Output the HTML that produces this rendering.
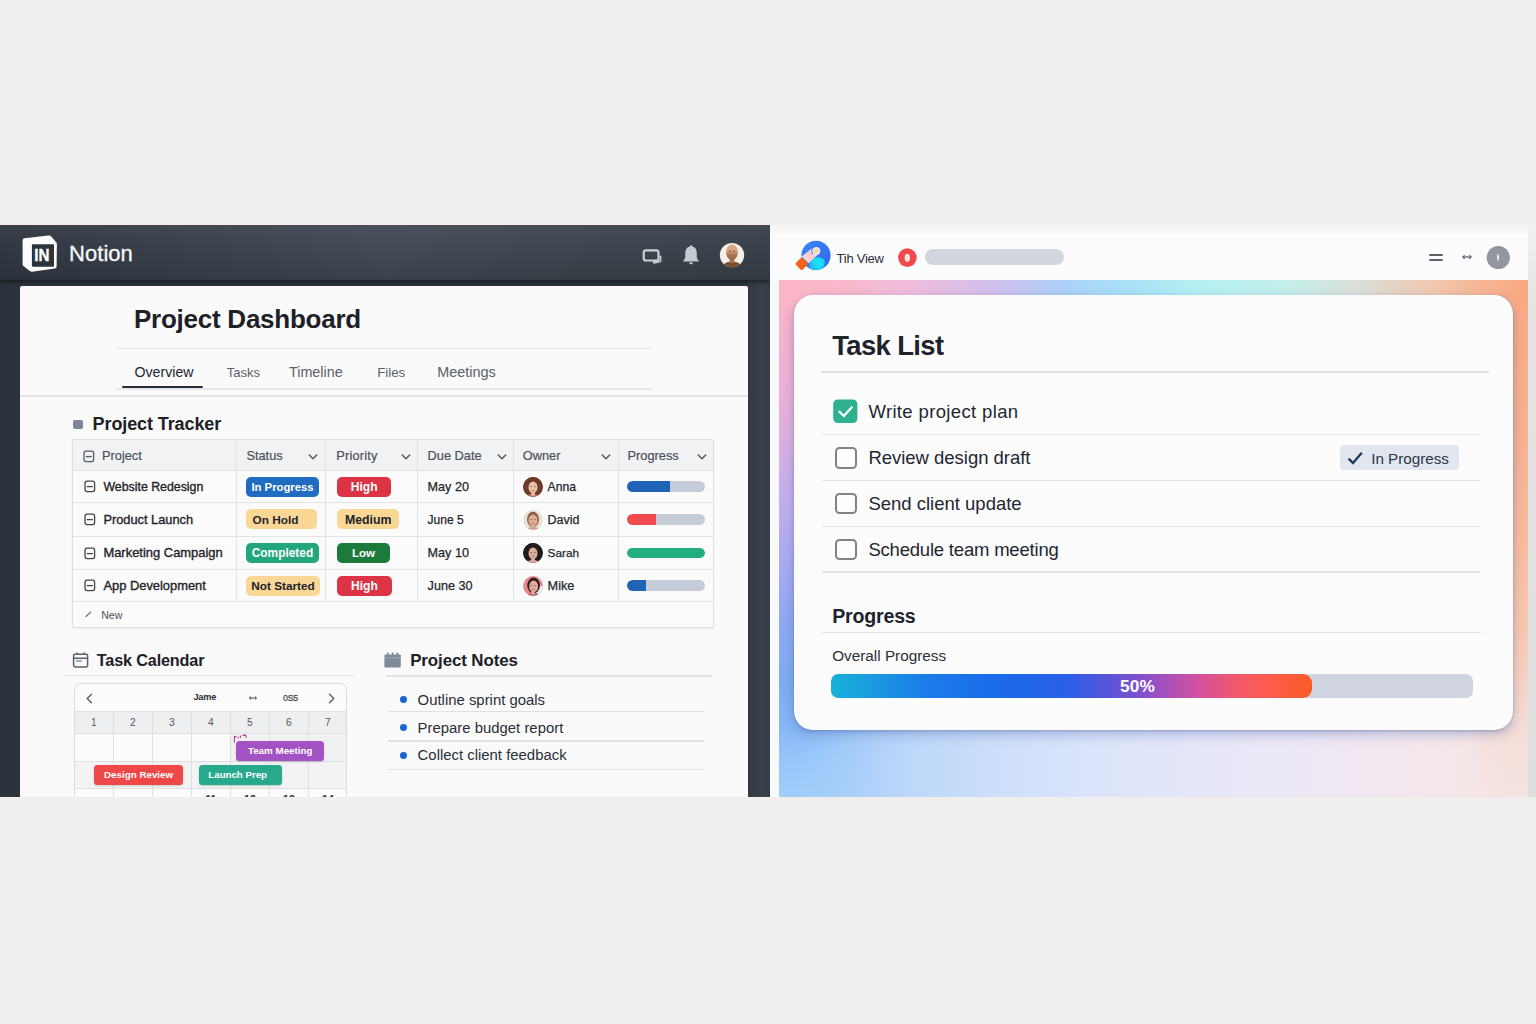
<!DOCTYPE html>
<html><head><meta charset="utf-8"><title>Project Dashboard</title>
<style>
*{box-sizing:border-box;margin:0;padding:0}
html,body{width:1536px;height:1024px;overflow:hidden}
body{background:linear-gradient(180deg,#efeeec 0%,#f0efed 100%);font-family:"Liberation Sans",sans-serif;position:relative;color:#1f2329}
.abs{position:absolute}
.t{position:absolute;white-space:nowrap;line-height:1}
/* left panel */
#L{position:absolute;left:0;top:225px;width:770px;height:572px;background:#2c333c;overflow:hidden}
#Lh{z-index:2;position:absolute;left:0;top:0;width:770px;height:55px;background:linear-gradient(180deg,rgba(255,255,255,.035) 0,rgba(255,255,255,0) 40%,rgba(0,0,0,.13) 100%),linear-gradient(90deg,#313842 0%,#3a414b 22%,#444b56 50%,#3f464f 75%,#3a414a 100%);box-shadow:0 2px 4px rgba(0,0,0,.45)}
#Lc{position:absolute;left:20px;top:61px;width:728px;height:520px;background:#fafafa;border-radius:2px 2px 0 0}
/* right panel */
#R{position:absolute;left:770px;top:225px;width:766px;height:572px;background:linear-gradient(180deg,#f4f4f4 0,#f6f6f6 7px,#fcfcfd 9px,#fbfcfe 55px,#f8f9fb 56px);overflow:hidden}
#Rg{position:absolute;left:9px;top:55px;width:749px;height:517px;overflow:hidden}
#Rs{position:absolute;left:758px;top:0;width:8px;height:572px;background:linear-gradient(180deg,#f1f1f1 0,#e4e4e4 15%,#dedede 100%)}
#Rc{position:absolute;left:24px;top:70px;width:719px;height:435px;background:#fcfcfd;border-radius:19px;box-shadow:0 5px 12px rgba(60,85,160,.30),0 1px 3px rgba(60,80,150,.30)}

#Rg .base{position:absolute;inset:0;background:linear-gradient(90deg,#a2cdfa 0%,#aed2fa 10%,#c0d9fa 20%,#cedffa 30%,#dbe4fa 42%,#e6e7fa 56%,#eee8f6 70%,#f4e8ef 84%,#f6e6e6 94%,#f6e2de 100%)}
#Rg .lft{position:absolute;left:0;top:0;width:120px;height:100%;background:linear-gradient(180deg,#fcb6c6 0%,#f6b2cc 12%,#e6b0da 26%,#ccb0e8 38%,#b0acf0 52%,#90a8f2 66%,#7eacf4 78%,#86b6f6 86%,#98c6fa 93%,#a2cdfa 100%);-webkit-mask-image:linear-gradient(90deg,#000 0,#000 14%,rgba(0,0,0,.62) 38%,rgba(0,0,0,.28) 62%,rgba(0,0,0,.08) 84%,transparent 100%);mask-image:linear-gradient(90deg,#000 0,#000 14%,rgba(0,0,0,.62) 38%,rgba(0,0,0,.28) 62%,rgba(0,0,0,.08) 84%,transparent 100%)}
#Rg .rgt{position:absolute;right:0;top:0;width:60px;height:100%;background:linear-gradient(180deg,#f8aa84 0%,#f8b290 30%,#f8bc9e 50%,#f8cab4 70%,#f6dcd6 86%,#f5e4e2 100%);-webkit-mask-image:linear-gradient(270deg,#000 0,#000 40%,transparent 100%);mask-image:linear-gradient(270deg,#000 0,#000 40%,transparent 100%)}
#Rg .top{position:absolute;left:0;top:0;width:100%;height:40px;background:linear-gradient(90deg,#fcb6c6 0%,#f8b8cc 9%,#ecbcdc 19%,#d0c0ee 29%,#acd0f8 38%,#a8e0f6 46%,#b4f0f2 56%,#c4eeea 68%,#dcded6 78%,#f0c8b0 87%,#f8b08c 96%,#f8a882 100%);-webkit-mask-image:linear-gradient(180deg,#000 0,#000 50%,transparent 100%);mask-image:linear-gradient(180deg,#000 0,#000 50%,transparent 100%)}
#L svg,#L .t{z-index:3}

</style></head>
<body>
<div id="L">
<div id="Lh"></div>
<div id="Lc"></div>
<svg class="abs" style="left:20px;top:7px" width="40" height="42" viewBox="20 232 40 42"><path d="M24.6 238.2 L48.6 235.6 Q50.4 235.4 51.5 236.8 L56.3 242.4 Q56.9 243.2 56.9 244.2 L56.6 266.4 Q56.6 268.2 54.8 268.5 L32.4 271.7 Q31 271.9 29.8 271 L23.4 266 Q22.6 265.4 22.6 264.4 L22.6 240.2 Q22.6 238.4 24.6 238.2 Z" fill="#fcfcfc"/><rect x="31.9" y="244.2" width="22.1" height="22.5" rx=".8" fill="#2d333b"/><text x="34.3" y="260.9" font-family="Liberation Sans" font-weight="700" font-size="16.3" fill="#fff" stroke="#fff" stroke-width=".35" transform="translate(34.3 0) scale(0.93 1) translate(-34.3 0)">IN</text></svg>
<div class="t" style="left:69.0px;top:18.0px;font-size:22px;color:#f6f7f8;font-weight:400;letter-spacing:.05px;-webkit-text-stroke:.3px #f6f7f8">Notion</div>
<svg class="abs" style="left:640px;top:21px" width="24" height="20" viewBox="640 246 24 20"><rect x="643.7" y="250.3" width="14.8" height="10.2" rx="2.3" fill="none" stroke="#cdd2d9" stroke-width="2.2"/><path d="M653 261 L653 263.4 Q653 264 653.8 263.8 L659.6 262.6 Q661.4 262.2 661.4 260.4 L661.4 255.8 L659.6 255.8 L659.6 261 Z" fill="#c3c8d0"/></svg>
<svg class="abs" style="left:680px;top:18px" width="22" height="24" viewBox="680 243 22 24"><path d="M691 245.2 Q692.3 245.2 692.3 246.6 Q696.8 247.8 696.8 253.2 L696.8 257.2 Q696.8 259 698.6 260.4 L698.6 261.4 L683.4 261.4 L683.4 260.4 Q685.2 259 685.2 257.2 L685.2 253.2 Q685.2 247.8 689.7 246.6 Q689.7 245.2 691 245.2 Z" fill="#c5cad2"/><rect x="689.3" y="262.3" width="3.4" height="2" rx="1" fill="#c5cad2"/></svg>
<svg class="abs" style="left:718px;top:16px" width="28" height="30" viewBox="718 241 28 30"><defs><clipPath id="av0"><circle cx="732" cy="255.1" r="12.2"/></clipPath><linearGradient id="avg" x1="0" y1="0" x2="0" y2="1"><stop offset="0" stop-color="#dcb090"/><stop offset=".45" stop-color="#d09c7c"/><stop offset=".7" stop-color="#a87252"/><stop offset="1" stop-color="#9a6444"/></linearGradient></defs><circle cx="732" cy="255.1" r="12.2" fill="#f6efe9"/><g clip-path="url(#av0)"><ellipse cx="732" cy="269.6" rx="11.5" ry="8" fill="#7c4e30"/><rect x="729.6" y="258" width="4.8" height="5" fill="#a87252"/><ellipse cx="732" cy="252.2" rx="5.9" ry="7.7" fill="url(#avg)"/><path d="M729 251.4 h2 M733 251.4 h2" stroke="#5a3826" stroke-width="1" opacity=".8"/></g></svg>
<div class="abs" style="left:748.0px;top:55.0px;width:22.0px;height:520.0px;background:linear-gradient(90deg,#323942 0,#373e47 45%,#3a414a 60%,#353c45 100%)"></div>
<div class="t" style="left:134.0px;top:81.2px;font-size:26px;color:#1d2026;font-weight:700;letter-spacing:-.25px">Project Dashboard</div>
<div class="abs" style="left:116.0px;top:123.0px;width:536.0px;height:1.3px;background:#e4e5e7"></div>
<div class="t" style="left:134.4px;top:140.2px;font-size:14.2px;color:#23272e;font-weight:400;">Overview</div>
<div class="t" style="left:226.8px;top:141.2px;font-size:13.0px;color:#5a6069;font-weight:400;">Tasks</div>
<div class="t" style="left:289.0px;top:140.1px;font-size:14.35px;color:#5a6069;font-weight:400;">Timeline</div>
<div class="t" style="left:377.2px;top:140.9px;font-size:13.3px;color:#5a6069;font-weight:400;">Files</div>
<div class="t" style="left:437.2px;top:140.0px;font-size:14.45px;color:#5a6069;font-weight:400;">Meetings</div>
<div class="abs" style="left:116.0px;top:163.4px;width:536.0px;height:1.2px;background:#e6e7e9"></div>
<div class="abs" style="left:121.5px;top:161.2px;width:81.0px;height:2.3px;background:#2a2e37;border-radius:1px"></div>
<div class="abs" style="left:20.0px;top:170.4px;width:728.0px;height:1.3px;background:#e3e4e6"></div>
<div class="abs" style="left:72.8px;top:195.0px;width:10.4px;height:9.4px;background:#7b8798;border-radius:2px"></div>
<div class="t" style="left:92.6px;top:190.4px;font-size:18px;color:#1d2026;font-weight:700;letter-spacing:-.1px">Project Tracker</div>
<div class="abs" style="left:72.0px;top:214.3px;width:642.0px;height:188.9px;background:#fbfbfb;border:1.2px solid #dcdee1;border-radius:2px;box-shadow:0 1px 2px rgba(0,0,0,.05)"></div>
<div class="abs" style="left:73.0px;top:215.3px;width:640.0px;height:30.1px;background:#f1f2f3"></div>
<div class="abs" style="left:73.0px;top:244.8px;width:640.0px;height:1.2px;background:#e2e3e6"></div>
<div class="abs" style="left:73.0px;top:277.0px;width:640.0px;height:1.2px;background:#e2e3e6"></div>
<div class="abs" style="left:73.0px;top:310.6px;width:640.0px;height:1.2px;background:#e2e3e6"></div>
<div class="abs" style="left:73.0px;top:344.2px;width:640.0px;height:1.2px;background:#e2e3e6"></div>
<div class="abs" style="left:73.0px;top:376.0px;width:640.0px;height:1.2px;background:#e2e3e6"></div>
<div class="abs" style="left:235.7px;top:215.3px;width:1.2px;height:161.3px;background:#e2e3e6"></div>
<div class="abs" style="left:325.2px;top:215.3px;width:1.2px;height:161.3px;background:#e2e3e6"></div>
<div class="abs" style="left:417.0px;top:215.3px;width:1.2px;height:161.3px;background:#e2e3e6"></div>
<div class="abs" style="left:513.2px;top:215.3px;width:1.2px;height:161.3px;background:#e2e3e6"></div>
<div class="abs" style="left:618.0px;top:215.3px;width:1.2px;height:161.3px;background:#e2e3e6"></div>
<svg class="abs" style="left:82.6px;top:224.8px" width="12" height="13" viewBox="0 0 12 13"><rect x="1" y="1.2" width="9.6" height="10.4" rx="2" fill="none" stroke="#555b63" stroke-width="1.3"/><path d="M2.8 6.6 H8.8" stroke="#555b63" stroke-width="1.3"/></svg>
<div class="t" style="left:102.0px;top:224.8px;font-size:12.8px;color:#4b515a;font-weight:400;-webkit-text-stroke:.2px #4b515a">Project</div>
<div class="t" style="left:246.4px;top:224.8px;font-size:12.8px;color:#4b515a;font-weight:400;-webkit-text-stroke:.2px #4b515a">Status</div>
<div class="t" style="left:336.2px;top:224.8px;font-size:12.8px;color:#4b515a;font-weight:400;-webkit-text-stroke:.2px #4b515a;letter-spacing:.2px">Priority</div>
<div class="t" style="left:427.6px;top:224.8px;font-size:12.8px;color:#4b515a;font-weight:400;-webkit-text-stroke:.2px #4b515a">Due Date</div>
<div class="t" style="left:522.8px;top:224.8px;font-size:12.8px;color:#4b515a;font-weight:400;-webkit-text-stroke:.2px #4b515a">Owner</div>
<div class="t" style="left:627.5px;top:224.8px;font-size:12.8px;color:#4b515a;font-weight:400;-webkit-text-stroke:.2px #4b515a">Progress</div>
<svg class="abs" style="left:308.3px;top:228.2px" width="10" height="8" viewBox="0 0 10 8"><path d="M1.3 2 L5 5.8 L8.7 2" fill="none" stroke="#4a4f57" stroke-width="1.25" stroke-linecap="round" stroke-linejoin="round"/></svg>
<svg class="abs" style="left:400.6px;top:228.2px" width="10" height="8" viewBox="0 0 10 8"><path d="M1.3 2 L5 5.8 L8.7 2" fill="none" stroke="#4a4f57" stroke-width="1.25" stroke-linecap="round" stroke-linejoin="round"/></svg>
<svg class="abs" style="left:497px;top:228.2px" width="10" height="8" viewBox="0 0 10 8"><path d="M1.3 2 L5 5.8 L8.7 2" fill="none" stroke="#4a4f57" stroke-width="1.25" stroke-linecap="round" stroke-linejoin="round"/></svg>
<svg class="abs" style="left:600.8px;top:228.2px" width="10" height="8" viewBox="0 0 10 8"><path d="M1.3 2 L5 5.8 L8.7 2" fill="none" stroke="#4a4f57" stroke-width="1.25" stroke-linecap="round" stroke-linejoin="round"/></svg>
<svg class="abs" style="left:696.6px;top:228.2px" width="10" height="8" viewBox="0 0 10 8"><path d="M1.3 2 L5 5.8 L8.7 2" fill="none" stroke="#4a4f57" stroke-width="1.25" stroke-linecap="round" stroke-linejoin="round"/></svg>
<svg class="abs" style="left:83.6px;top:255.10000000000002px" width="12" height="13" viewBox="0 0 12 13"><rect x="1" y="1.2" width="9.6" height="10.4" rx="2" fill="none" stroke="#3f444c" stroke-width="1.3"/><path d="M2.8 6.6 H8.8" stroke="#3f444c" stroke-width="1.3"/></svg>
<div class="t" style="left:103.4px;top:255.9px;font-size:12.35px;color:#1f2329;font-weight:400;-webkit-text-stroke:.35px #1f2329">Website Redesign</div>
<div class="abs" style="left:246.0px;top:251.5px;width:73.0px;height:20.0px;background:#1f6cc0;border-radius:5px;color:#fff;font-weight:700;font-size:11.3px;line-height:20.4px;text-align:center;white-space:nowrap;overflow:hidden">In Progress</div>
<div class="abs" style="left:337.0px;top:251.5px;width:54.4px;height:20.0px;background:#dc3444;border-radius:5px;color:#fff;font-weight:700;font-size:12.1px;line-height:20.4px;text-align:center;white-space:nowrap;overflow:hidden">High</div>
<div class="t" style="left:427.6px;top:255.7px;font-size:12.6px;color:#23272e;font-weight:400;-webkit-text-stroke:.25px #23272e">May 20</div>
<svg class="abs" style="left:521.9px;top:250.60000000000002px" width="22" height="22" viewBox="521.9 475.6 22 22"><defs><clipPath id="a0"><circle cx="532.9" cy="486.6" r="9.9"/></clipPath></defs><circle cx="532.9" cy="486.6" r="9.9" fill="#6b3a28"/><g clip-path="url(#a0)"><ellipse cx="532.9" cy="486.0" rx="9.9" ry="9.9" fill="#6b3a28"/><ellipse cx="532.9" cy="498.1" rx="7.5" ry="4.6" fill="#b8786a"/><rect x="531.1" y="490.6" width="3.6" height="4.5" fill="#ecbfa8"/><ellipse cx="532.9" cy="487.0" rx="4.5" ry="5.9" fill="#ecbfa8"/><path d="M530.3 486.20000000000005 h1.6 M534.1 486.20000000000005 h1.6" stroke="#6a4438" stroke-width=".9" opacity=".75"/><path d="M531.5 490.0 q1.5 .9 3 0" stroke="#a8584c" stroke-width=".8" fill="none" opacity=".8"/></g></svg>
<div class="t" style="left:547.6px;top:256.1px;font-size:12.2px;color:#23272e;font-weight:400;-webkit-text-stroke:.25px #23272e">Anna</div>
<div class="abs" style="left:627.3px;top:256.2px;width:77.4px;height:10.6px;background:#c6ccd7;border-radius:6px;overflow:hidden"><div style="width:55.0%;height:100%;background:#1f63b8;border-radius:6px 0 0 6px"></div></div>
<svg class="abs" style="left:83.6px;top:288.0000000000001px" width="12" height="13" viewBox="0 0 12 13"><rect x="1" y="1.2" width="9.6" height="10.4" rx="2" fill="none" stroke="#3f444c" stroke-width="1.3"/><path d="M2.8 6.6 H8.8" stroke="#3f444c" stroke-width="1.3"/></svg>
<div class="t" style="left:103.4px;top:288.5px;font-size:12.8px;color:#1f2329;font-weight:400;-webkit-text-stroke:.35px #1f2329">Product Launch</div>
<div class="abs" style="left:246.0px;top:284.4px;width:71.0px;height:20.0px;background:#fbd795;border-radius:5px;color:#20232a;font-weight:700;font-size:11.8px;line-height:22.599999999999998px;text-align:left;padding-left:6.6px;white-space:nowrap;overflow:hidden">On Hold</div>
<div class="abs" style="left:337.0px;top:284.4px;width:62.4px;height:20.0px;background:#fbd795;border-radius:5px;color:#20232a;font-weight:700;font-size:12.3px;line-height:22.599999999999998px;text-align:center;white-space:nowrap;overflow:hidden">Medium</div>
<div class="t" style="left:427.6px;top:289.1px;font-size:12.0px;color:#23272e;font-weight:400;-webkit-text-stroke:.25px #23272e">June 5</div>
<svg class="abs" style="left:521.9px;top:283.5000000000001px" width="22" height="22" viewBox="521.9 508.5000000000001 22 22"><defs><clipPath id="a1"><circle cx="532.9" cy="519.5000000000001" r="9.9"/></clipPath></defs><circle cx="532.9" cy="519.5000000000001" r="9.9" fill="#e6e0d6"/><g clip-path="url(#a1)"><ellipse cx="532.9" cy="518.9000000000001" rx="6.0" ry="7.6" fill="#8c5c44"/><ellipse cx="532.9" cy="531.0000000000001" rx="7.5" ry="4.6" fill="#c89c88"/><rect x="531.1" y="523.5000000000001" width="3.6" height="4.5" fill="#dcae94"/><ellipse cx="532.9" cy="519.9000000000001" rx="4.5" ry="5.9" fill="#dcae94"/><path d="M530.3 519.1000000000001 h1.6 M534.1 519.1000000000001 h1.6" stroke="#6a4438" stroke-width=".9" opacity=".75"/><path d="M531.5 522.9000000000001 q1.5 .9 3 0" stroke="#a8584c" stroke-width=".8" fill="none" opacity=".8"/></g></svg>
<div class="t" style="left:547.6px;top:288.7px;font-size:12.5px;color:#23272e;font-weight:400;-webkit-text-stroke:.25px #23272e">David</div>
<div class="abs" style="left:627.3px;top:289.1px;width:77.4px;height:10.6px;background:#c6ccd7;border-radius:6px;overflow:hidden"><div style="width:37.0%;height:100%;background:#ef4b4f;border-radius:6px 0 0 6px"></div></div>
<svg class="abs" style="left:83.6px;top:321.6px" width="12" height="13" viewBox="0 0 12 13"><rect x="1" y="1.2" width="9.6" height="10.4" rx="2" fill="none" stroke="#3f444c" stroke-width="1.3"/><path d="M2.8 6.6 H8.8" stroke="#3f444c" stroke-width="1.3"/></svg>
<div class="t" style="left:103.4px;top:321.9px;font-size:12.95px;color:#1f2329;font-weight:400;-webkit-text-stroke:.35px #1f2329">Marketing Campaign</div>
<div class="abs" style="left:246.0px;top:318.0px;width:73.0px;height:20.0px;background:#23a67c;border-radius:5px;color:#fff;font-weight:700;font-size:11.9px;line-height:20.4px;text-align:center;white-space:nowrap;overflow:hidden">Completed</div>
<div class="abs" style="left:337.0px;top:318.0px;width:53.0px;height:20.0px;background:#1c7a3c;border-radius:5px;color:#fff;font-weight:700;font-size:11.6px;line-height:20.4px;text-align:center;white-space:nowrap;overflow:hidden">Low</div>
<div class="t" style="left:427.6px;top:322.2px;font-size:12.6px;color:#23272e;font-weight:400;-webkit-text-stroke:.25px #23272e">May 10</div>
<svg class="abs" style="left:521.9px;top:317.1px" width="22" height="22" viewBox="521.9 542.1 22 22"><defs><clipPath id="a2"><circle cx="532.9" cy="553.1" r="9.9"/></clipPath></defs><circle cx="532.9" cy="553.1" r="9.9" fill="#201b1d"/><g clip-path="url(#a2)"><ellipse cx="532.9" cy="552.5" rx="9.9" ry="9.9" fill="#201b1d"/><ellipse cx="532.9" cy="564.6" rx="7.5" ry="4.6" fill="#d8a8a0"/><rect x="531.1" y="557.1" width="3.6" height="4.5" fill="#dcae9c"/><ellipse cx="532.9" cy="553.5" rx="4.5" ry="5.9" fill="#dcae9c"/><path d="M530.3 552.7 h1.6 M534.1 552.7 h1.6" stroke="#6a4438" stroke-width=".9" opacity=".75"/><path d="M531.5 556.5 q1.5 .9 3 0" stroke="#a8584c" stroke-width=".8" fill="none" opacity=".8"/></g></svg>
<div class="t" style="left:547.6px;top:322.9px;font-size:11.8px;color:#23272e;font-weight:400;-webkit-text-stroke:.25px #23272e">Sarah</div>
<div class="abs" style="left:627.3px;top:322.7px;width:77.4px;height:10.6px;background:#c6ccd7;border-radius:6px;overflow:hidden"><div style="width:100.0%;height:100%;background:#22ae7e;border-radius:6px"></div></div>
<svg class="abs" style="left:83.6px;top:354.30000000000007px" width="12" height="13" viewBox="0 0 12 13"><rect x="1" y="1.2" width="9.6" height="10.4" rx="2" fill="none" stroke="#3f444c" stroke-width="1.3"/><path d="M2.8 6.6 H8.8" stroke="#3f444c" stroke-width="1.3"/></svg>
<div class="t" style="left:103.4px;top:354.7px;font-size:12.9px;color:#1f2329;font-weight:400;-webkit-text-stroke:.35px #1f2329">App Development</div>
<div class="abs" style="left:246.0px;top:350.7px;width:74.0px;height:20.0px;background:#fbd795;border-radius:5px;color:#20232a;font-weight:700;font-size:11.8px;line-height:21.0px;text-align:center;white-space:nowrap;overflow:hidden">Not Started</div>
<div class="abs" style="left:337.0px;top:350.7px;width:54.8px;height:20.0px;background:#dc3444;border-radius:5px;color:#fff;font-weight:700;font-size:12.1px;line-height:21.0px;text-align:center;white-space:nowrap;overflow:hidden">High</div>
<div class="t" style="left:427.6px;top:354.9px;font-size:12.6px;color:#23272e;font-weight:400;-webkit-text-stroke:.25px #23272e">June 30</div>
<svg class="abs" style="left:521.9px;top:349.80000000000007px" width="22" height="22" viewBox="521.9 574.8000000000001 22 22"><defs><clipPath id="a3"><circle cx="532.9" cy="585.8000000000001" r="9.9"/></clipPath></defs><circle cx="532.9" cy="585.8000000000001" r="9.9" fill="#e8868e"/><g clip-path="url(#a3)"><rect x="532.9" y="585.8000000000001" width="11" height="11" fill="#dfeee6"/><ellipse cx="533.5" cy="585.2" rx="6.3" ry="7.8" fill="#2a1c20"/><ellipse cx="533.5" cy="597.3000000000001" rx="7.5" ry="4.6" fill="#b05a60"/><rect x="531.1" y="589.8000000000001" width="3.6" height="4.5" fill="#e2ac9c"/><ellipse cx="533.5" cy="586.2" rx="4.5" ry="5.9" fill="#e2ac9c"/><path d="M530.3 585.4000000000001 h1.6 M534.1 585.4000000000001 h1.6" stroke="#6a4438" stroke-width=".9" opacity=".75"/><path d="M531.5 589.2 q1.5 .9 3 0" stroke="#a8584c" stroke-width=".8" fill="none" opacity=".8"/></g></svg>
<div class="t" style="left:547.6px;top:354.8px;font-size:12.7px;color:#23272e;font-weight:400;-webkit-text-stroke:.25px #23272e">Mike</div>
<div class="abs" style="left:627.3px;top:355.4px;width:77.4px;height:10.6px;background:#c6ccd7;border-radius:6px;overflow:hidden"><div style="width:24.0%;height:100%;background:#1f63b8;border-radius:6px 0 0 6px"></div></div>
<svg class="abs" style="left:84px;top:385px" width="9" height="9" viewBox="0 0 9 9"><path d="M2 6.5 L6.8 2" stroke="#6b7078" stroke-width="1.1" stroke-linecap="round"/></svg>
<div class="t" style="left:101.2px;top:384.6px;font-size:10.6px;color:#4b5058;font-weight:400;">New</div>
<svg class="abs" style="left:72px;top:426px" width="18" height="18" viewBox="72 651 18 18"><rect x="73.6" y="654.2" width="14" height="12.8" rx="1.4" fill="none" stroke="#59616e" stroke-width="1.5"/><path d="M73.6 658.2 H87.6 M77.2 652.4 V655 M84 652.4 V655" stroke="#59616e" stroke-width="1.6"/><path d="M76 661 H82" stroke="#59616e" stroke-width="1"/></svg>
<div class="t" style="left:96.8px;top:427.1px;font-size:16.2px;color:#1d2026;font-weight:700;letter-spacing:-.15px">Task Calendar</div>
<div class="abs" style="left:64.0px;top:450.2px;width:290.5px;height:1.3px;background:#e4e5e7"></div>
<div class="abs" style="left:74.4px;top:458.4px;width:273.0px;height:140.0px;background:#fbfbfb;border:1.2px solid #d9dbde;border-radius:7px"></div>
<div class="abs" style="left:75.4px;top:486.4px;width:271.0px;height:22.2px;background:#eeeff0"></div>
<div class="abs" style="left:230.4px;top:508.6px;width:116.0px;height:27.8px;background:#f1f1f2"></div>
<div class="abs" style="left:75.4px;top:536.4px;width:271.0px;height:27.0px;background:#f3f3f4"></div>
<div class="abs" style="left:75.4px;top:485.8px;width:271.0px;height:1.2px;background:#dddfe2"></div>
<div class="abs" style="left:75.4px;top:508.0px;width:271.0px;height:1.2px;background:#dddfe2"></div>
<div class="abs" style="left:75.4px;top:535.8px;width:271.0px;height:1.2px;background:#dddfe2"></div>
<div class="abs" style="left:75.4px;top:562.8px;width:271.0px;height:1.2px;background:#dddfe2"></div>
<div class="abs" style="left:112.8px;top:486.4px;width:1.2px;height:100.0px;background:#dddfe2"></div>
<div class="abs" style="left:151.8px;top:486.4px;width:1.2px;height:100.0px;background:#dddfe2"></div>
<div class="abs" style="left:190.8px;top:486.4px;width:1.2px;height:100.0px;background:#dddfe2"></div>
<div class="abs" style="left:229.8px;top:486.4px;width:1.2px;height:100.0px;background:#dddfe2"></div>
<div class="abs" style="left:268.8px;top:486.4px;width:1.2px;height:100.0px;background:#dddfe2"></div>
<div class="abs" style="left:307.8px;top:486.4px;width:1.2px;height:100.0px;background:#dddfe2"></div>
<svg class="abs" style="left:85px;top:468px" width="9" height="11" viewBox="0 0 9 11"><path d="M6.6 1.2 L2.2 5.5 L6.6 9.8" fill="none" stroke="#555a62" stroke-width="1.3" stroke-linecap="round" stroke-linejoin="round"/></svg>
<svg class="abs" style="left:327px;top:468px" width="9" height="11" viewBox="0 0 9 11"><path d="M2.4 1.2 L6.8 5.5 L2.4 9.8" fill="none" stroke="#555a62" stroke-width="1.3" stroke-linecap="round" stroke-linejoin="round"/></svg>
<div class="t" style="left:193.4px;top:468.4px;font-size:9.2px;color:#2a2e35;font-weight:700;letter-spacing:-.2px">Jame</div>
<svg class="abs" style="left:248px;top:470px" width="10" height="6" viewBox="0 0 10 6"><path d="M1.6 3 H8.4" stroke="#4a4f57" stroke-width="1.1"/><path d="M3 1.5 L1.4 3 L3 4.5 M7 1.5 L8.6 3 L7 4.5" fill="none" stroke="#4a4f57" stroke-width="1"/></svg>
<div class="t" style="left:283.0px;top:468.8px;font-size:8.8px;color:#3a3f47;font-weight:400;letter-spacing:-.2px;-webkit-text-stroke:.2px #3a3f47">0S5</div>
<div class="abs" style="left:74.4px;top:491.8px;width:39.0px;height:12.0px;text-align:center;font-size:10.2px;line-height:12.6px;color:#555a62">1</div>
<div class="abs" style="left:113.4px;top:491.8px;width:39.0px;height:12.0px;text-align:center;font-size:10.2px;line-height:12.6px;color:#555a62">2</div>
<div class="abs" style="left:152.4px;top:491.8px;width:39.0px;height:12.0px;text-align:center;font-size:10.2px;line-height:12.6px;color:#555a62">3</div>
<div class="abs" style="left:191.4px;top:491.8px;width:39.0px;height:12.0px;text-align:center;font-size:10.2px;line-height:12.6px;color:#555a62">4</div>
<div class="abs" style="left:230.4px;top:491.8px;width:39.0px;height:12.0px;text-align:center;font-size:10.2px;line-height:12.6px;color:#555a62">5</div>
<div class="abs" style="left:269.4px;top:491.8px;width:39.0px;height:12.0px;text-align:center;font-size:10.2px;line-height:12.6px;color:#555a62">6</div>
<div class="abs" style="left:308.4px;top:491.8px;width:39.0px;height:12.0px;text-align:center;font-size:10.2px;line-height:12.6px;color:#555a62">7</div>
<div class="abs" style="left:191.4px;top:568.4px;width:39.0px;height:12.0px;text-align:center;font-size:10.5px;line-height:12px;color:#2a2e35;font-weight:700">11</div>
<div class="abs" style="left:230.4px;top:568.4px;width:39.0px;height:12.0px;text-align:center;font-size:10.5px;line-height:12px;color:#2a2e35;font-weight:700">12</div>
<div class="abs" style="left:269.4px;top:568.4px;width:39.0px;height:12.0px;text-align:center;font-size:10.5px;line-height:12px;color:#2a2e35;font-weight:700">13</div>
<div class="abs" style="left:308.4px;top:568.4px;width:39.0px;height:12.0px;text-align:center;font-size:10.5px;line-height:12px;color:#2a2e35;font-weight:700">14</div>
<svg class="abs" style="left:233px;top:509px" width="16" height="10" viewBox="0 0 16 10"><path d="M1.4 8.5 V2.6 H3.4 M5.2 2.8 V4.4 M7.4 1.6 V4 M9.6 1.4 L12.6 1.2 L13.4 3.8" fill="none" stroke="#b4389c" stroke-width="1.1"/></svg>
<div class="abs" style="left:236.0px;top:516.4px;width:88.4px;height:19.8px;padding-right:-2px;background:#a352c4;border-radius:3.5px;color:#fff;font-weight:700;font-size:9.8px;line-height:20.4px;text-align:center;white-space:nowrap;box-shadow:0 1px 2px rgba(0,0,0,.18)">Team Meeting</div>
<div class="abs" style="left:94.4px;top:540.3px;width:88.4px;height:19.5px;padding-right:0px;background:#ef4648;border-radius:3.5px;color:#fff;font-weight:700;font-size:9.8px;line-height:20.1px;text-align:center;white-space:nowrap;box-shadow:0 1px 2px rgba(0,0,0,.18)">Design Review</div>
<div class="abs" style="left:199.0px;top:540.3px;width:83.4px;height:20.1px;padding-right:6px;background:#27a98c;border-radius:3.5px;color:#fff;font-weight:700;font-size:9.7px;line-height:20.7px;text-align:center;white-space:nowrap;box-shadow:0 1px 2px rgba(0,0,0,.18)">Launch Prep</div>
<svg class="abs" style="left:383px;top:426px" width="20" height="18" viewBox="383 651 20 18"><path d="M385.4 654.4 H399.8 Q400.8 654.4 400.8 655.4 V666.6 Q400.8 667.6 399.8 667.6 H385.4 Q384.4 667.6 384.4 666.6 V655.4 Q384.4 654.4 385.4 654.4 Z" fill="#818a99"/><path d="M384.4 657.9 H400.8" stroke="#a9b0bb" stroke-width=".9"/><path d="M387.8 652.6 V655.4 M392.6 652.6 V655.4 M397.4 652.6 V655.4" stroke="#818a99" stroke-width="1.7"/></svg>
<div class="t" style="left:410.2px;top:427.5px;font-size:16.9px;color:#1d2026;font-weight:700;letter-spacing:-.1px">Project Notes</div>
<div class="abs" style="left:385.6px;top:450.4px;width:326.0px;height:1.3px;background:#e1e2e5"></div>
<div class="abs" style="left:399.9px;top:471.4px;width:6.8px;height:6.8px;background:#1a66d6;border-radius:50%"></div>
<div class="t" style="left:417.6px;top:467.6px;font-size:14.9px;color:#2b2f37;font-weight:400;">Outline sprint goals</div>
<div class="abs" style="left:388.0px;top:486.2px;width:316.0px;height:1.3px;background:#dfe0e3"></div>
<div class="abs" style="left:399.9px;top:499.3px;width:6.8px;height:6.8px;background:#1a66d6;border-radius:50%"></div>
<div class="t" style="left:417.6px;top:495.5px;font-size:14.9px;color:#2b2f37;font-weight:400;">Prepare budget report</div>
<div class="abs" style="left:388.0px;top:515.4px;width:316.0px;height:1.3px;background:#dfe0e3"></div>
<div class="abs" style="left:399.9px;top:527.1px;width:6.8px;height:6.8px;background:#1a66d6;border-radius:50%"></div>
<div class="t" style="left:417.6px;top:523.3px;font-size:14.9px;color:#2b2f37;font-weight:400;">Collect client feedback</div>
<div class="abs" style="left:388.0px;top:544.2px;width:316.0px;height:1.3px;background:#dfe0e3"></div>
</div>
<div id="R">
<div id="Rg"><div class="base"></div><div class="lft"></div><div class="rgt"></div><div class="top"></div></div>
<div id="Rs"></div>
<div id="Rc"></div>
<svg class="abs" style="left:22px;top:13px" width="44" height="36" viewBox="792 238 44 36"><defs><linearGradient id="lg1" x1="0" y1="0" x2="1" y2="1"><stop offset="0" stop-color="#3a86f5"/><stop offset="1" stop-color="#3566ee"/></linearGradient><linearGradient id="lg2" x1="0" y1="0" x2="1" y2="0"><stop offset="0" stop-color="#2cb0f2"/><stop offset=".6" stop-color="#16e4f6"/><stop offset="1" stop-color="#1ad4f4"/></linearGradient><linearGradient id="lg3" x1="0" y1="1" x2="1" y2="0"><stop offset="0" stop-color="#f8e6dc"/><stop offset=".5" stop-color="#f6cccc"/><stop offset="1" stop-color="#f4eef6"/></linearGradient><clipPath id="lc"><circle cx="816" cy="255.4" r="14.6"/></clipPath></defs><circle cx="816" cy="255.4" r="14.6" fill="url(#lg1)"/><g clip-path="url(#lc)"><ellipse cx="817" cy="264" rx="8.2" ry="6.2" fill="url(#lg2)" transform="rotate(-28 817 264)"/></g><path d="M801.6 256.6 L811.6 248.4 Q814 247.2 816 249 L818 254.6 L808.6 263.2 Z" fill="url(#lg3)"/><path d="M813.2 254.2 A4.6 4.6 0 0 1 814 247.2" fill="none" stroke="#2f56c8" stroke-width="1.1"/><circle cx="816.3" cy="251" r="4" fill="#ebe4f6"/><circle cx="816.3" cy="251" r="2.3" fill="#f6d88e"/><rect x="796.9" y="259.1" width="9.6" height="9.6" rx="1.7" fill="#f4641a" transform="rotate(45 801.7 263.9)"/></svg>
<div class="t" style="left:66.6px;top:26.6px;font-size:13px;color:#2a2f38;font-weight:400;letter-spacing:-.25px">Tih View</div>
<svg class="abs" style="left:126px;top:22px" width="22" height="22" viewBox="896 247 22 22"><circle cx="907.4" cy="257.6" r="9.3" fill="#f04a4c"/><ellipse cx="907.3" cy="257.8" rx="2.7" ry="4" fill="#fde8e2"/></svg>
<div class="abs" style="left:155.2px;top:24.4px;width:138.6px;height:15.6px;background:#d3d6dc;border-radius:8px"></div>
<div class="abs" style="left:659.0px;top:28.6px;width:14.2px;height:2.1px;background:#5d6169;border-radius:1px"></div>
<div class="abs" style="left:659.0px;top:34.0px;width:14.2px;height:2.1px;background:#5d6169;border-radius:1px"></div>
<svg class="abs" style="left:691px;top:27px" width="12" height="10" viewBox="1461 252 12 10"><path d="M1463 257 H1471" stroke="#5d6169" stroke-width="1.3"/><path d="M1464.6 255.2 L1462.8 257 L1464.6 258.8 M1469.4 255.2 L1471.2 257 L1469.4 258.8" fill="none" stroke="#5d6169" stroke-width="1.1"/></svg>
<svg class="abs" style="left:715px;top:19px" width="26" height="26" viewBox="1485 244 26 26"><circle cx="1498.3" cy="257.5" r="11.6" fill="#93969e"/><path d="M1497.6 253.2 Q1500.6 257.3 1497.8 261.6 Q1496.6 257.4 1497.6 253.2 Z" fill="#f2f2f4"/></svg>
<div class="t" style="left:62.2px;top:107.2px;font-size:27.4px;color:#1e222b;font-weight:700;letter-spacing:-.6px">Task List</div>
<div class="abs" style="left:50.5px;top:146.2px;width:668.0px;height:1.5px;background:#e0e1e4"></div>
<svg class="abs" style="left:62px;top:173px" width="27" height="27" viewBox="832 398 27 27"><rect x="833.2" y="399.5" width="24.2" height="23.6" rx="4.6" fill="#2fb190"/><path d="M839.4 411.6 L843.8 416 L851.8 407.2" fill="none" stroke="#fff" stroke-width="2.2" stroke-linecap="round" stroke-linejoin="round"/></svg>
<div class="t" style="left:98.4px;top:178.4px;font-size:18.5px;color:#23272f;font-weight:400;letter-spacing:0.36px">Write project plan</div>
<div class="t" style="left:98.4px;top:224.2px;font-size:18.5px;color:#23272f;font-weight:400;letter-spacing:-0.02px">Review design draft</div>
<div class="abs" style="left:64.8px;top:222.2px;width:22.2px;height:21.6px;border:2px solid #808388;border-radius:4.5px;background:#fdfdfd"></div>
<div class="t" style="left:98.4px;top:269.8px;font-size:18.5px;color:#23272f;font-weight:400;letter-spacing:0.0px">Send client update</div>
<div class="abs" style="left:64.8px;top:267.8px;width:22.2px;height:21.6px;border:2px solid #808388;border-radius:4.5px;background:#fdfdfd"></div>
<div class="t" style="left:98.4px;top:315.8px;font-size:18.5px;color:#23272f;font-weight:400;letter-spacing:-0.2px">Schedule team meeting</div>
<div class="abs" style="left:64.8px;top:313.8px;width:22.2px;height:21.6px;border:2px solid #808388;border-radius:4.5px;background:#fdfdfd"></div>
<div class="abs" style="left:52.0px;top:208.9px;width:658.0px;height:1.5px;background:#e2e3e6"></div>
<div class="abs" style="left:52.0px;top:254.7px;width:658.0px;height:1.5px;background:#e2e3e6"></div>
<div class="abs" style="left:52.0px;top:300.5px;width:658.0px;height:1.5px;background:#e2e3e6"></div>
<div class="abs" style="left:52.0px;top:346.3px;width:658.0px;height:1.5px;background:#e2e3e6"></div>
<div class="abs" style="left:570.0px;top:220.1px;width:119.0px;height:25.2px;background:#e2e7ef;border-radius:4px"></div>
<svg class="abs" style="left:575px;top:225px" width="20" height="16" viewBox="1345 450 20 16"><path d="M1348.6 458.6 L1353 463 L1361.8 452.8" fill="none" stroke="#1f3a5c" stroke-width="2.3" stroke-linejoin="miter"/></svg>
<div class="t" style="left:601.2px;top:226.0px;font-size:15.2px;color:#2b3647;font-weight:400;">In Progress</div>
<div class="t" style="left:62.2px;top:382.4px;font-size:19.6px;color:#1e222b;font-weight:700;letter-spacing:-.2px">Progress</div>
<div class="abs" style="left:52.0px;top:406.7px;width:659.0px;height:1.5px;background:#e0e1e4"></div>
<div class="t" style="left:62.2px;top:423.2px;font-size:15.3px;color:#2b2f37;font-weight:400;">Overall Progress</div>
<div class="abs" style="left:61.4px;top:449.0px;width:641.8px;height:24.0px;background:#cfd4e0;border-radius:7px;overflow:hidden"><div style="width:480.6px;height:100%;border-radius:7px 9px 9px 7px;background:linear-gradient(90deg,#16b2d8 0%,#1a9be0 8%,#1b7ce8 20%,#1c69ea 36%,#2a60e8 49%,#5a54d8 58%,#8c50c8 66%,#b650b0 72%,#d4529a 77%,#f2586e 84%,#fd5c4e 91%,#fb5a26 100%)"></div></div>
<div class="t" style="left:350.0px;top:452.7px;font-size:17.2px;color:#fff;font-weight:700;letter-spacing:.2px">50%</div>
</div>
</body></html>
